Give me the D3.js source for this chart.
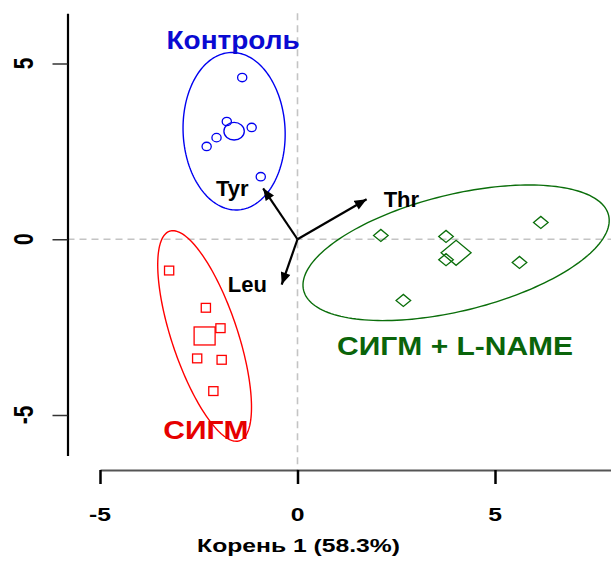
<!DOCTYPE html>
<html>
<head>
<meta charset="utf-8">
<script src="https://cdn.jsdelivr.net/npm/d3@7"></script>
<style>
  body { margin: 0; background: #fff; }
  svg { display: block; font-family: "Liberation Sans", Arial, sans-serif; font-weight: bold; }
</style>
</head>
<body>
<div id="app"></div>
<script>
const width = 611,
  height = 565;

// scores on the two discriminant roots
const kontrol = [
  [-1.40, 4.60], [-1.79, 3.35], [-1.16, 3.18],
  [-2.05, 2.89], [-2.30, 2.64], [-0.93, 1.78]
];
const sigm = [
  [-3.25, -0.89], [-2.32, -1.95], [-1.95, -2.53],
  [-2.54, -3.39], [-1.92, -3.43], [-2.13, -4.32]
];
const sigmLname = [
  [2.11, 0.11], [3.76, 0.08], [3.76, -0.58],
  [5.62, -0.66], [6.16, 0.48], [2.68, -1.74]
];

// ellipse half-axes (data units) around each group centre
const kontrolEllipse = [[-0.085, 2.24], [1.29, 0.06]];
const sigmEllipse = [[0.886, -2.98], [0.79, 0.30]];
const sigmLnameEllipse = [[3.86, 1.07], [0.355, -1.605]];

// variable loadings (arrows) and their label positions
const loadNames = ["Tyr", "Thr", "Leu"];
const loadTips = [[-0.87, 1.45], [1.75, 1.14], [-0.40, -1.29]];
const loadLabels = [[-1.65, 1.22], [2.63, 0.92], [-1.27, -1.51]];

const groupNames = ["Контроль", "СИГМ", "СИГМ + L-NAME"];
const groupLabelPos = [[-1.63, 5.40], [-2.32, -5.68], [3.99, -3.28]];

const xTicks = [-5, 0, 5];
const yTicks = [-5, 0, 5];
const yAxisExtent = [-6.15, 6.43];
const xTitle = "Корень 1 (58.3%)";

const x = d3.scaleLinear().domain([-5, 5]).range([100, 495]);
const y = d3.scaleLinear().domain([-5, 5]).range([415, 63.5]);

const svg = d3.select("#app")
  .append("svg")
  .attr("width", width)
  .attr("height", height);

// dashed zero lines
svg.append("line")
  .attr("x1", x(0)).attr("x2", x(0))
  .attr("y1", y(yAxisExtent[1])).attr("y2", 470)
  .style("stroke", "#c4c4c4")
  .style("stroke-width", 1.6)
  .style("stroke-dasharray", "7,5");

svg.append("line")
  .attr("x1", 67.5).attr("x2", width)
  .attr("y1", y(0)).attr("y2", y(0))
  .style("stroke", "#c4c4c4")
  .style("stroke-width", 1.6)
  .style("stroke-dasharray", "7,5");

// x axis
const xAxisScale = x.copy().domain([-5, x.invert(width)]).range([100, width]);
const gx = svg.append("g")
  .attr("transform", "translate(0,470)")
  .call(d3.axisBottom(xAxisScale).tickValues(xTicks).tickSize(14).tickSizeOuter(0).tickFormat(""));
gx.select(".domain").style("stroke", "#555").style("stroke-width", 2);
gx.selectAll(".tick line").style("stroke", "#000").style("stroke-width", 2.5);

svg.append("g")
  .selectAll("text")
  .data(xTicks)
  .join("text")
  .attr("transform", d => `translate(${x(d)},520.5) scale(1.3,1)`)
  .attr("text-anchor", "middle")
  .style("font-size", "19px")
  .text(d => d < 0 ? "-" + Math.abs(d) : d);

svg.append("text")
  .attr("transform", `translate(298.5,552) scale(1.3,1)`)
  .attr("text-anchor", "middle")
  .style("font-size", "19px")
  .text(xTitle);

// y axis
const yAxisScale = y.copy().domain(yAxisExtent).range([y(yAxisExtent[0]), y(yAxisExtent[1])]);
const gy = svg.append("g")
  .attr("transform", "translate(67.5,0)")
  .call(d3.axisLeft(yAxisScale).tickValues(yTicks).tickSize(15).tickSizeOuter(0).tickFormat(""));
gy.select(".domain").style("stroke", "#000").style("stroke-width", 2.2);
gy.selectAll(".tick line").style("stroke", "#333").style("stroke-width", 1.5);

svg.append("g")
  .selectAll("text")
  .data(yTicks)
  .join("text")
  .attr("transform", d => `translate(32.7,${y(d)}) rotate(-90) scale(1,1.3)`)
  .attr("text-anchor", "middle")
  .style("font-size", "21px")
  .text(d => d < 0 ? "-" + Math.abs(d) : d);

// group ellipses
const ellipseLine = d3.line().x(d => x(d[0])).y(d => y(d[1])).curve(d3.curveLinearClosed);
function ellipsePoints(pts, axes) {
  const cx = d3.mean(pts, d => d[0]), cy = d3.mean(pts, d => d[1]);
  return d3.range(0, 2 * Math.PI, Math.PI / 90).map(t => [
    cx + axes[0][0] * Math.cos(t) + axes[1][0] * Math.sin(t),
    cy + axes[0][1] * Math.cos(t) + axes[1][1] * Math.sin(t)
  ]);
}

const groups = [
  { pts: kontrol, axes: kontrolEllipse, color: "#0000f0", shape: "circle" },
  { pts: sigm, axes: sigmEllipse, color: "#ff0000", shape: "square" },
  { pts: sigmLname, axes: sigmLnameEllipse, color: "#0a6e0a", shape: "diamond" }
];

groups.forEach(g => {
  svg.append("path")
    .attr("d", ellipseLine(ellipsePoints(g.pts, g.axes)))
    .style("fill", "none")
    .style("stroke", g.color)
    .style("stroke-width", 1.4);

  const centre = [d3.mean(g.pts, d => d[0]), d3.mean(g.pts, d => d[1])];
  const marks = g.pts.map(p => ({ p: p, big: false })).concat([{ p: centre, big: true }]);

  const sel = svg.append("g")
    .style("fill", "none")
    .style("stroke", g.color)
    .style("stroke-width", 1.3);

  if (g.shape === "circle") {
    sel.selectAll("ellipse").data(marks).join("ellipse")
      .attr("cx", d => x(d.p[0]))
      .attr("cy", d => y(d.p[1]))
      .attr("rx", d => d.big ? 10.2 : 4.6)
      .attr("ry", d => d.big ? 8.8 : 4.2);
  } else if (g.shape === "square") {
    sel.selectAll("rect").data(marks).join("rect")
      .attr("x", d => x(d.p[0]) - (d.big ? 10.5 : 4.6))
      .attr("y", d => y(d.p[1]) - (d.big ? 9 : 4.4))
      .attr("width", d => d.big ? 21 : 9.2)
      .attr("height", d => d.big ? 18 : 8.8);
  } else {
    sel.selectAll("path").data(marks).join("path")
      .attr("d", d => {
        const cx = x(d.p[0]), cy = y(d.p[1]);
        const w = d.big ? 15 : 7.3, h = d.big ? 12.5 : 6;
        return `M${cx - w},${cy}L${cx},${cy - h}L${cx + w},${cy}L${cx},${cy + h}Z`;
      });
  }
});

// loading arrows
svg.append("defs").append("marker")
  .attr("id", "head")
  .attr("viewBox", "0 0 12 10")
  .attr("refX", 12)
  .attr("refY", 5)
  .attr("markerWidth", 13)
  .attr("markerHeight", 10)
  .attr("markerUnits", "userSpaceOnUse")
  .attr("orient", "auto")
  .append("path")
  .attr("d", "M0,0L12,5L0,10Z")
  .style("fill", "#000");

svg.append("g")
  .selectAll("line")
  .data(loadTips)
  .join("line")
  .attr("x1", x(0)).attr("y1", y(0))
  .attr("x2", d => x(d[0])).attr("y2", d => y(d[1]))
  .style("stroke", "#000")
  .style("stroke-width", 2.2)
  .attr("marker-end", "url(#head)");

svg.append("g")
  .selectAll("text")
  .data(loadNames)
  .join("text")
  .attr("x", (d, i) => x(loadLabels[i][0]))
  .attr("y", (d, i) => y(loadLabels[i][1]))
  .attr("text-anchor", "middle")
  .style("font-size", "22px")
  .style("fill", "#000")
  .text(d => d);

// group labels
const groupStretch = [1.12, 1.2, 1.2];
svg.append("g")
  .selectAll("text")
  .data(groupNames)
  .join("text")
  .attr("transform", (d, i) => `translate(${x(groupLabelPos[i][0])},${y(groupLabelPos[i][1])}) scale(${groupStretch[i]},1)`)
  .attr("text-anchor", "middle")
  .style("font-size", "25px")
  .style("fill", (d, i) => i === 0 ? "#0a0ad2" : i === 1 ? "#e60000" : "#0a640a")
  .text(d => d);
</script>
</body>
</html>
